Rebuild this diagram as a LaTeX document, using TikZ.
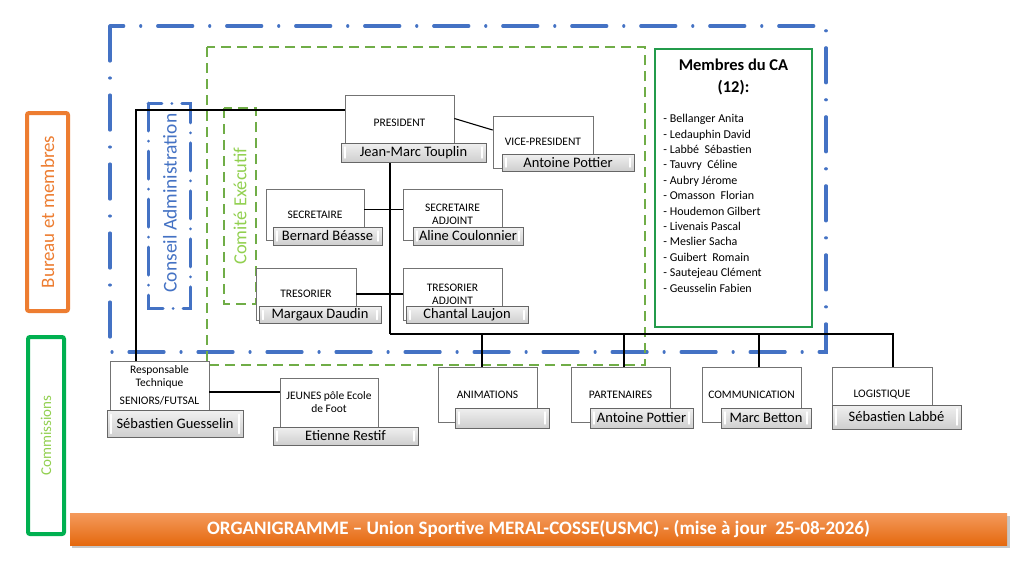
\documentclass[tikz,border=0pt]{standalone}
\usepackage{fontspec}
\setmainfont{Carlito}
\usetikzlibrary{positioning}

\definecolor{caBlue}{HTML}{4472C4}
\definecolor{ceGreen}{HTML}{70AD47}
\definecolor{ceText}{HTML}{92D050}
\definecolor{bmOrange}{HTML}{ED7D31}
\definecolor{comGreen}{HTML}{00B050}
\definecolor{caGreen}{HTML}{239B4B}
\definecolor{banTop}{HTML}{F49A5C}
\definecolor{banBot}{HTML}{E5690F}

\newcommand{\rolefont}{\fontsize{11.5}{13}\selectfont}
\newcommand{\namefont}{\fontsize{14.5}{16}\selectfont}

\tikzset{
  rolebox/.style={draw=black!55, fill=white, line width=0.7pt, align=center, inner sep=0pt, font=\rolefont},
  namebar/.style={draw=black!60, line width=0.8pt, top color=gray!12, bottom color=gray!38,
    inner sep=0pt, font=\namefont,
    path picture={
      \draw[white, line width=1.4pt, line cap=round]
        ([xshift=4pt,yshift=-4pt]path picture bounding box.north west) -- ([xshift=4pt,yshift=4pt]path picture bounding box.south west)
        ([xshift=-4pt,yshift=-4pt]path picture bounding box.north east) -- ([xshift=-4pt,yshift=4pt]path picture bounding box.south east);
    }},
  link/.style={draw=black, line width=1.1pt},
  bureauframe/.style={draw=caBlue, line width=3.2pt, line cap=round, dash pattern=on 35pt off 17pt on 0.01pt off 17pt},
  caframe/.style={draw=caBlue, line width=3pt, line cap=round, dash pattern=on 28pt off 10pt on 0.01pt off 10pt},
  ceframe/.style={draw=ceGreen, line width=1.8pt, dash pattern=on 10pt off 6pt},
  legendbox/.style={line width=4pt, rounded corners=2pt, inner sep=0pt}
}

\begin{document}
\begin{tikzpicture}[x=1pt, y=-1pt]
\useasboundingbox (0,0) rectangle (1024,576);
\fill[white] (0,0) rectangle (1024,576);

% cadres
\draw[bureauframe] (110,26) rectangle (826,352);
\draw[ceframe] (207,47) rectangle (645,365);
\draw[caframe] (148,103) rectangle (190,308);
\draw[ceframe] (224,108) rectangle (256,304);
\node[rotate=90, text=caBlue, font=\fontsize{19.5}{20}\selectfont] (catitle) at (170,203) {Conseil Administration};
\node[rotate=90, text=ceText, font=\fontsize{18.5}{20}\selectfont] (cetitle) at (240,206) {Comité Exécutif};

% legendes
\node[legendbox, draw=bmOrange, minimum width=41, minimum height=198] (bureau) at (47.5,212) {};
\node[rotate=90, text=bmOrange, font=\fontsize{19}{20}\selectfont] at (bureau) {Bureau et membres};
\node[legendbox, draw=comGreen, minimum width=36, minimum height=197] (commissions) at (46,435.5) {};
\node[rotate=90, text=ceText, font=\fontsize{15}{16}\selectfont] at (commissions) {Commissions};

% bureau
\node[rolebox, minimum width=109, minimum height=55] (pres) at (399.5,122.5) {PRESIDENT};
\node[rolebox, minimum width=100, minimum height=52] (vp) at (543,142) {VICE-PRESIDENT};
\node[rolebox, minimum width=98, minimum height=51] (sec) at (315,214.5) {SECRETAIRE};
\node[rolebox, minimum width=99, minimum height=51] (secadj) at (452.5,214.5) {SECRETAIRE\\ADJOINT};
\node[rolebox, minimum width=100, minimum height=52] (tres) at (306,294) {TRESORIER};
\node[rolebox, minimum width=99, minimum height=52] (tresadj) at (452.5,294) {TRESORIER\\ADJOINT};

% commissions
\node[rolebox, minimum width=99, minimum height=49] (resp) at (159.5,385.5) {Responsable\\Technique\\[5pt]SENIORS/FUTSAL};
\node[rolebox, minimum width=98, minimum height=49] (jeunes) at (329,402.5) {JEUNES pôle Ecole\\de Foot};
\node[rolebox, minimum width=99, minimum height=55] (anim) at (487.5,394.5) {ANIMATIONS};
\node[rolebox, minimum width=99, minimum height=55] (part) at (620.5,394.5) {PARTENAIRES};
\node[rolebox, minimum width=99, minimum height=55] (comm) at (751.5,394.5) {COMMUNICATION};
\node[rolebox, minimum width=100, minimum height=55] (logi) at (882,394.5) {LOGISTIQUE};

% liaisons
\coordinate (hub) at (390,334);
\draw[link] ([yshift=12.5pt]pres.west) -| ([xshift=-23.5pt]resp.north);
\draw[link] ([yshift=4pt]pres.east) -- ([yshift=12pt]vp.west);
\draw[link] ([yshift=5pt]sec.east) -- ([yshift=5pt]secadj.west);
\draw[link] (tres) -- (tresadj);
\draw[link] (pres.south -| hub) -- (hub);
\draw[link] (hub) -| ([xshift=-5.5pt]anim.north);
\draw[link] (hub) -| ([xshift=3.5pt]part.north);
\draw[link] (hub) -| ([xshift=7.5pt]comm.north);
\draw[link] (hub) -| ([xshift=11pt]logi.north);
\draw[link] ([yshift=-6.5pt]resp.east) coordinate (rj) -- (rj -| jeunes.west);

% noms
\node[namebar, minimum width=145, minimum height=19] (presname) at (413.5,152.5) {Jean-Marc Touplin};
\node[namebar, minimum width=132, minimum height=17] (vpname) at (568,162.5) {Antoine Pottier};
\node[namebar, minimum width=109, minimum height=18] (secname) at (327.5,236) {Bernard Béasse};
\node[namebar, minimum width=110, minimum height=18] (secadjname) at (468,236) {Aline Coulonnier};
\node[namebar, minimum width=122, minimum height=17] (tresname) at (320,315) {Margaux Daudin};
\node[namebar, minimum width=122, minimum height=17] (tresadjname) at (467,315) {Chantal Laujon};
\node[namebar, minimum width=136, minimum height=27] (respname) at (175,424) {Sébastien Guesselin};
\node[namebar, minimum width=145, minimum height=18] (jeunesname) at (345.5,436) {Etienne Restif};
\node[namebar, minimum width=94, minimum height=20] (animname) at (502,418) {};
\node[namebar, minimum width=103, minimum height=20] (partname) at (641.5,418) {Antoine Pottier};
\node[namebar, minimum width=90, minimum height=20] (commname) at (766,418) {Marc Betton};
\node[namebar, minimum width=129, minimum height=24] (loginame) at (896.5,417) {Sébastien Labbé};

% membres du CA
\node[draw=caGreen, line width=1.6pt, fill=white, minimum width=157, minimum height=278] (membres) at (733.5,188) {};
\node[below=7pt of membres.north, align=center, font=\fontsize{16.5}{22}\bfseries] (membrestitle) {Membres du CA\\(12):};
\node[anchor=north west, align=left, inner sep=0pt, font=\fontsize{12}{15.4}\selectfont] (membreslist)
  at ([xshift=9pt,yshift=-66pt]membres.north west)
  {- Bellanger Anita\\- Ledauphin David\\- Labbé\ \ Sébastien\\- Tauvry\ \ Céline\\- Aubry Jérome\\- Omasson\ \ Florian\\- Houdemon\ Gilbert\\- Livenais Pascal\\- Meslier Sacha\\- Guibert\ \ Romain\\- Sautejeau Clément\\- Geusselin Fabien};

% bandeau
\fill[black!22] (72,516) rectangle (1010,548);
\node[top color=banTop, bottom color=banBot, minimum width=937, minimum height=32, inner sep=0pt,
  text=white, font=\fontsize{19}{20}\bfseries] (banner) at (538.5,529)
  {ORGANIGRAMME – Union Sportive MERAL-COSSE(USMC) - (mise à jour\ \ 25-08-2026)};

\end{tikzpicture}
\end{document}
